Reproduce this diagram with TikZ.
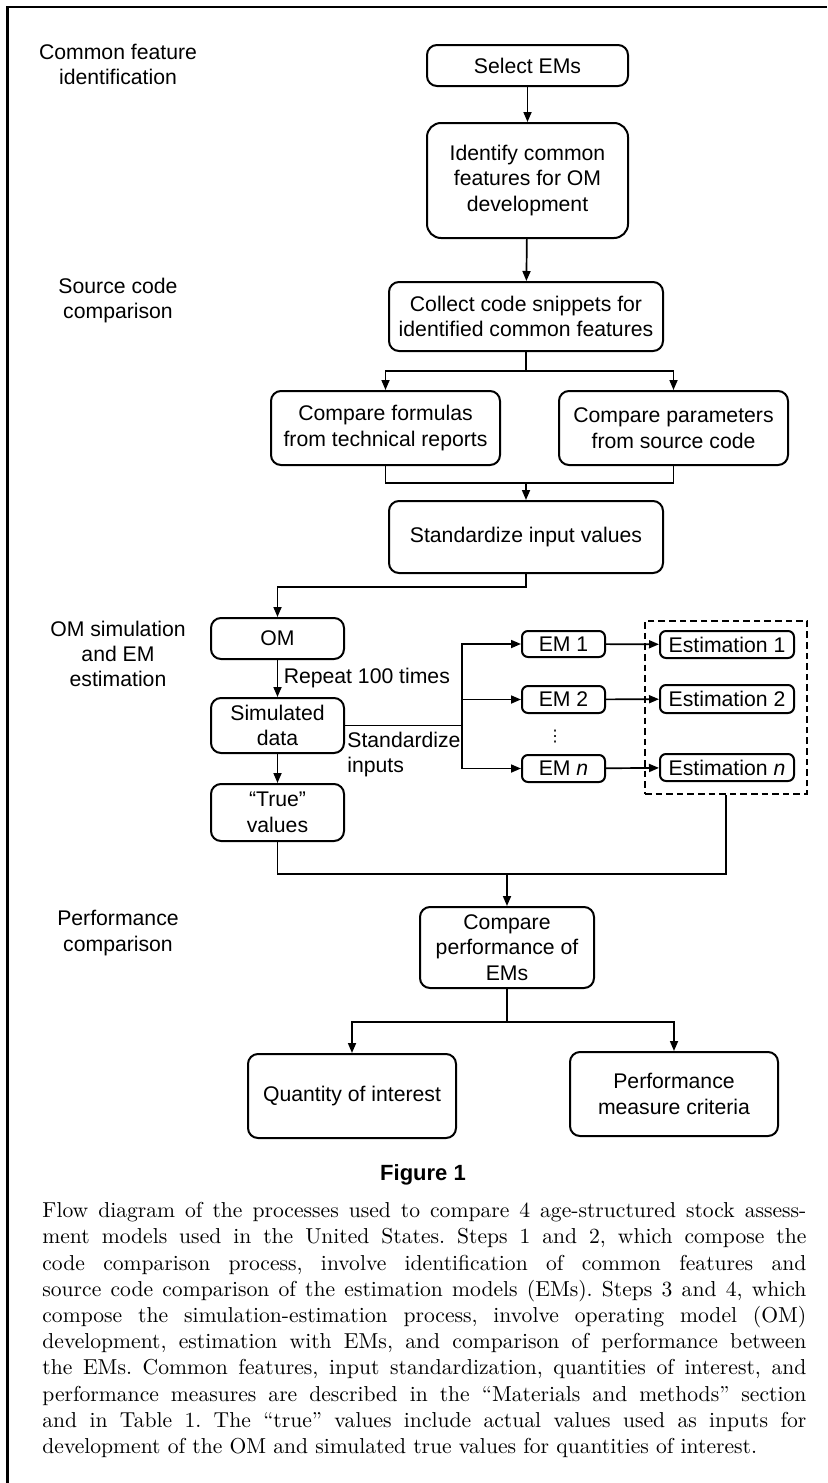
\documentclass[tikz,border=0pt]{standalone}
\usepackage{fontspec}
\setsansfont{Liberation Sans}
\newfontfamily\dotsfont{DejaVu Sans}
\usetikzlibrary{arrows.meta}

\begin{document}
\begin{tikzpicture}[x=0.5pt,y=-0.5pt,
		font=\sffamily\fontsize{10.6}{12.7}\selectfont,
		box/.style={draw,line width=1pt,rounded corners=5pt,align=center,inner sep=0pt},
		sbox/.style={box,rounded corners=3pt},
		tag/.style={align=center,inner sep=0pt},
		lnk/.style={line width=0.85pt},
		arw/.style={lnk,-{Triangle[length=5pt,width=4pt]}}]
		\useasboundingbox (0,0) rectangle (827,1483);
		\draw [line width=1.1pt] (7.5,1483) -- (7.5,7) -- (827,7);

		\node [tag] (l1) at (118,64.5) {Common feature\\identification};
		\node [tag] (l2) at (118,300.5) {Source code\\comparison};
		\node [tag] (l3) at (118,654) {OM simulation\\and EM\\estimation};
		\node [tag] (l4) at (118,933) {Performance\\comparison};

		\node [box,minimum width=100.5pt,minimum height=20.5pt] (sel) at (527.5,65.5) {Select EMs};
		\node [box,rounded corners=7pt,minimum width=100.5pt,minimum height=57.5pt] (idf) at (527.5,180.5)
		{Identify common\\features for OM\\development};
		\node [box,minimum width=137pt,minimum height=34.5pt] (col) at (526,316.5)
		{Collect code snippets for\\identified common features};
		\node [box,minimum width=114.5pt,minimum height=37pt] (frm) at (385.5,428)
		{Compare formulas\\from technical reports};
		\node [box,minimum width=114.5pt,minimum height=37pt] (par) at (673.5,428)
		{Compare parameters\\from source code};
		\node [box,minimum width=137pt,minimum height=36pt] (std) at (526,537) {Standardize input values};

		\node [box,minimum width=66.5pt,minimum height=20.5pt] (om) at (277.5,638.5) {OM};
		\node [box,minimum width=66.5pt,minimum height=27.5pt] (sim) at (277.5,725.5) {Simulated\\data};
		\node [box,minimum width=66.5pt,minimum height=28.5pt] (tru) at (277.5,812.5) {“True”\\values};
		\node [sbox,minimum width=41.5pt,minimum height=13pt] (em1) at (563.5,644) {EM 1};
		\node [sbox,minimum width=41.5pt,minimum height=13.5pt] (em2) at (563.5,699.5) {EM 2};
		\node [sbox,minimum width=41.5pt,minimum height=13.5pt] (emn) at (563.5,768.5) {EM \textit{n}};
		\node [tag] (dots) at (555,737) {\dotsfont\fontsize{8}{9}\selectfont ⋮};
		\node [sbox,minimum width=67pt,minimum height=13.5pt] (est1) at (727,644.5) {Estimation 1};
		\node [sbox,minimum width=67pt,minimum height=14pt] (est2) at (727,699) {Estimation 2};
		\node [sbox,minimum width=67pt,minimum height=13.5pt] (estn) at (727,767.5) {Estimation \textit{n}};
		\node [draw,line width=0.9pt,dash pattern=on 3.3pt off 2pt,minimum width=81pt,minimum height=86.5pt] (grp) at (726,707.5) {};

		\node [box,minimum width=87pt,minimum height=40.5pt] (cmp) at (507,947.5) {Compare\\performance of\\EMs};
		\node [box,minimum width=104pt,minimum height=42pt] (qty) at (352,1096) {Quantity of interest};
		\node [box,minimum width=104pt,minimum height=42pt] (pmc) at (674,1094) {Performance\\measure criteria};

		\coordinate (b1) at (526,371);
		\coordinate (j1) at (526,483);
		\coordinate (sp) at (462,725.5);
		\coordinate (j2) at (507,874);
		\coordinate (b2) at (507,1022);

		\draw [arw] (sel) -- (idf);
		\draw [arw] (idf) -- (col);
		\draw [lnk] (col) -- (b1);
		\draw [arw] (b1) -| (frm.north);
		\draw [arw] (b1) -| (par.north);
		\draw [lnk] (frm.south) |- (j1) -| (par.south);
		\draw [arw] (j1) -- (std);
		\draw [arw] (std.south) -- ++(0,13) -| (om.north);
		\draw [arw] (om) -- node [tag,anchor=west,xshift=2.7pt] (rep) {Repeat 100 times} (sim);
		\draw [arw] (sim) -- (tru);
		\draw [lnk] (sim.east) -- (sp);
		\node [tag,anchor=west,align=left] (si) at (347,754.5) {Standardize\\inputs};
		\draw [arw] (sp) |- (em1.west);
		\draw [arw] (sp) |- (em2.west);
		\draw [arw] (sp) |- (emn.west);
		\draw [arw] (em1) -- (est1);
		\draw [arw] (em2) -- (est2);
		\draw [arw] (emn) -- (estn);
		\draw [lnk] (tru.south) |- (j2) -| (grp.south);
		\draw [arw] (j2) -- (cmp);
		\draw [lnk] (cmp) -- (b2);
		\draw [arw] (b2) -| (qty.north);
		\draw [arw] (b2) -| (pmc.north);

		\node [tag] (fig) at (423,1175) {\bfseries\fontsize{11}{13}\selectfont Figure 1};
		\node [anchor=north west,inner sep=0pt,text width=382pt,align=justify,
		font=\rmfamily\fontsize{10.8}{13.1}\selectfont] (cap) at (42,1202)
		{\tolerance=10000\relax\hbadness=10000\relax\frenchspacing
		Flow diagram of the processes used to compare 4 age-structured stock assess-\linebreak
		ment models used in the United States. Steps 1 and 2, which compose the\linebreak
		code comparison process, involve identification of common features and\linebreak
		source code comparison of the estimation models (EMs). Steps 3 and 4, which\linebreak
		compose the simulation-estimation process, involve operating model (OM)\linebreak
		development, estimation with EMs, and comparison of performance between\linebreak
		the EMs. Common features, input standardization, quantities of interest, and\linebreak
		performance measures are described in the “Materials and methods” section\linebreak
		and in Table 1. The “true” values include actual values used as inputs for\linebreak
		development of the OM and simulated true values for quantities of interest.};
	\end{tikzpicture}
\end{document}
